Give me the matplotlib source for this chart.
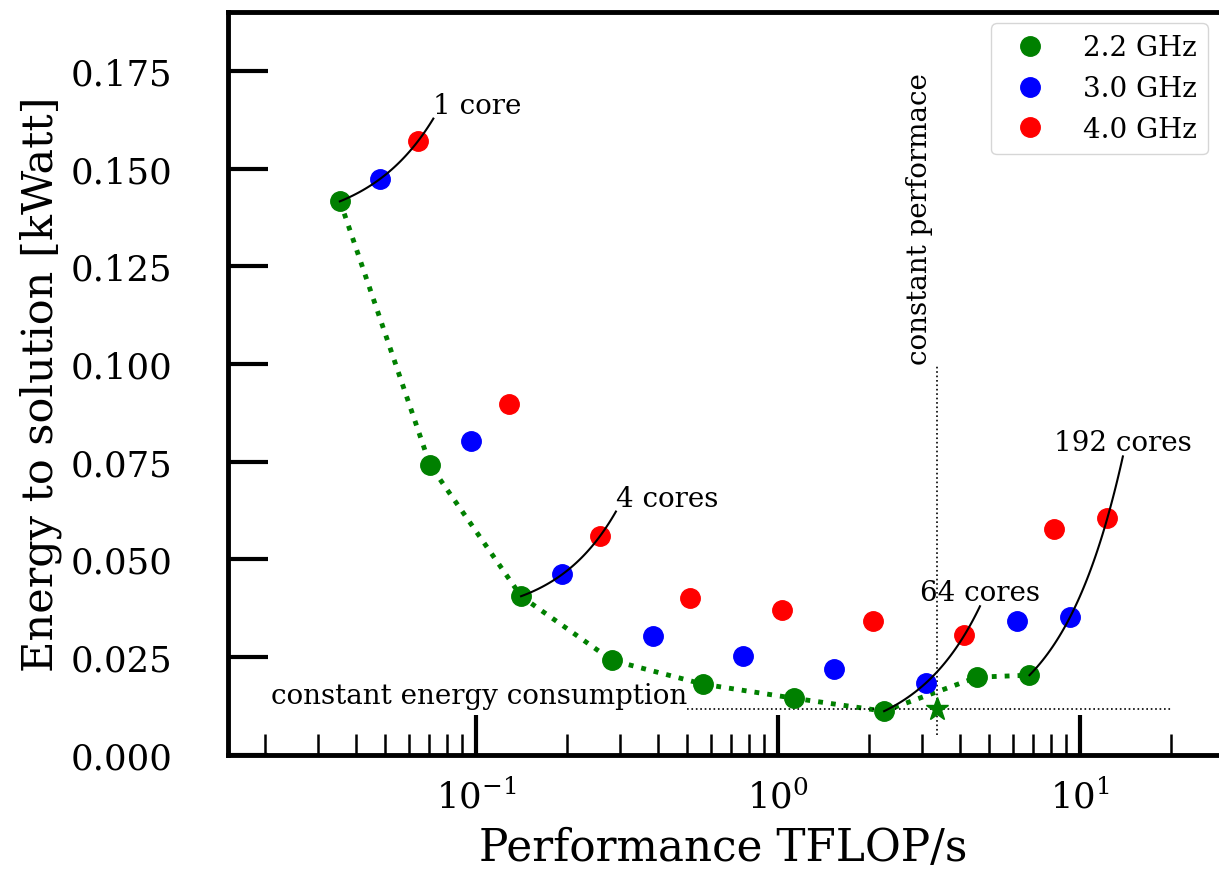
import numpy as np
import matplotlib
matplotlib.use("Agg")
import matplotlib.pyplot as plt

plt.rcParams["font.family"] = ["DejaVu Serif"]
plt.rcParams["mathtext.fontset"] = "dejavuserif"

# clock frequencies (GHz) and the values read per frequency
freqs = [2.2, 3.0, 4.0]
freq_labels = ["2.2 GHz", "3.0 GHz", "4.0 GHz"]
colors = ["green", "blue", "red"]

# performance [TFLOP/s] and energy to solution [kWatt]
perf_22 = [0.0355, 0.0704, 0.141, 0.282, 0.565, 1.13, 2.24, 4.56, 6.78]
energy_22 = [0.1416, 0.0742, 0.0406, 0.0242, 0.0181, 0.0145, 0.0112, 0.0199, 0.0204]
perf_30 = [0.0481, 0.0963, 0.193, 0.386, 0.766, 1.53, 3.09, 6.19, 9.27]
energy_30 = [0.1474, 0.0804, 0.0462, 0.0304, 0.0253, 0.0219, 0.0184, 0.0342, 0.0352]
perf_40 = [0.0643, 0.129, 0.258, 0.511, 1.03, 2.06, 4.13, 8.20, 12.3]
energy_40 = [0.157, 0.0898, 0.0561, 0.0401, 0.0370, 0.0342, 0.0306, 0.0577, 0.0607]

# core counts that get a frequency fit curve (index into the series above)
fit_idx = [0, 2, 6, 8]
fit_labels = ["1 core", "4 cores", "64 cores", "192 cores"]
fit_ha = ["left", "left", "center", "center"]
f_end = 4.5

# optimum point
star_perf = 3.36
star_energy = 0.0117

perf = [perf_22, perf_30, perf_40]
energy = [energy_22, energy_30, energy_40]

fig = plt.figure(figsize=(12.19, 8.79), dpi=100)
ax = fig.add_axes([0.187, 0.140, 0.813, 0.845])

ax.plot(perf_22, energy_22, linestyle=":", color="green", linewidth=3.5, zorder=2)
for p, e, c, lab in zip(perf, energy, colors, freq_labels):
    ax.plot(p, e, "o", color=c, markersize=14, label=lab, linestyle="none", zorder=3)

# quadratic energy / linear performance fit over frequency for selected core counts
fgrid = np.linspace(freqs[0], f_end, 50)
for i, lab, ha in zip(fit_idx, fit_labels, fit_ha):
    pp = [s[i] for s in perf]
    ee = [s[i] for s in energy]
    cx = np.polyfit(freqs, pp, 1)
    ce = np.polyfit(freqs, ee, 2)
    xs = np.polyval(cx, fgrid)
    ys = np.polyval(ce, fgrid)
    ax.plot(xs, ys, color="black", linewidth=1.5, zorder=4)
    ax.text(xs[-1], ys[-1], lab, ha=ha, va="bottom", fontsize=20)

ax.plot([star_perf], [star_energy], "*", color="green", markersize=17, zorder=3)
ax.plot([star_perf, star_perf], [0.005, 0.1], ":", color="black", linewidth=1.2)
ax.plot([0.5, 20], [star_energy, star_energy], ":", color="black", linewidth=1.2)
ax.text(star_perf * 0.97, 0.1, "constant performace", rotation=90,
        ha="right", va="bottom", fontsize=20)
ax.text(0.5, star_energy, "constant energy consumption", ha="right",
        va="bottom", fontsize=20)

ax.set_xscale("log")
ax.set_xlim(0.0151, 28.8)
ax.set_ylim(0, 0.19)
ax.set_yticks(np.arange(0, 0.176, 0.025))
ax.yaxis.set_major_formatter(matplotlib.ticker.FormatStrFormatter("%.3f"))
ax.minorticks_on()
ax.yaxis.set_minor_locator(matplotlib.ticker.NullLocator())

ax.tick_params(which="major", direction="in", length=29, width=3, labelsize=25.5)
ax.tick_params(axis="y", which="major", pad=40)
ax.tick_params(axis="x", which="major", pad=17)
ax.tick_params(which="minor", direction="in", length=15, width=1.8)
for side in ["left", "bottom", "top"]:
    ax.spines[side].set_linewidth(3.5)
ax.spines["right"].set_visible(False)

ax.set_xlabel("Performance TFLOP/s", fontsize=31.5, labelpad=8)
ax.set_ylabel("Energy to solution [kWatt]", fontsize=31, labelpad=6)
ax.legend(loc="upper right", fontsize=20, borderaxespad=0.4, handletextpad=0.9)

fig.savefig("out.png", dpi=100)
